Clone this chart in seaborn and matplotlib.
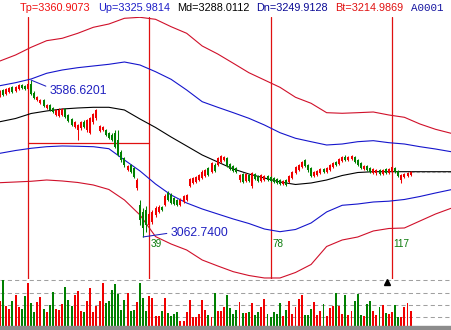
import matplotlib
matplotlib.use("Agg")
import matplotlib.pyplot as plt
from matplotlib.patches import Rectangle
import seaborn as sns
import numpy as np

sns.set_style("white")
plt.rcParams['font.family'] = ['Liberation Sans', 'DejaVu Sans']

# ---------------- data ----------------
candle_idx = list(range(-9, 124))

open_ = [3534, 3554, 3540, 3547, 3564, 3550, 3557, 3570, 3567,
         3557, 3574, 3544, 3520, 3510, 3520, 3493, 3504, 3493, 3470,
         3467, 3470, 3490, 3470, 3457, 3430, 3420, 3427, 3447, 3420,
         3410, 3447, 3460, 3417, 3420, 3420, 3410, 3403, 3410, 3387,
         3347, 3327, 3286, 3303, 3293, 3226, 3170, 3146, 3153, 3103,
         3113, 3136, 3146, 3163, 3170, 3210, 3203, 3193, 3186, 3170,
         3180, 3186, 3233, 3243, 3246, 3253, 3260, 3266, 3293, 3280,
         3303, 3303, 3313, 3320, 3327, 3306, 3300, 3293, 3253, 3273,
         3250, 3270, 3233, 3273, 3266, 3250, 3253, 3266, 3263, 3260,
         3256, 3253, 3240, 3253, 3246, 3260, 3276, 3286, 3296, 3320,
         3303, 3293, 3266, 3270, 3276, 3290, 3280, 3286, 3296, 3313,
         3306, 3317, 3330, 3320, 3323, 3330, 3320, 3310, 3290, 3300,
         3293, 3276, 3276, 3286, 3273, 3290, 3276, 3280, 3293, 3283,
         3253, 3263, 3266, 3270]

close = [3550, 3537, 3557, 3560, 3547, 3564, 3570, 3560, 3557,
         3574, 3540, 3527, 3530, 3520, 3500, 3504, 3487, 3480, 3487,
         3487, 3490, 3463, 3450, 3437, 3447, 3437, 3447, 3430, 3453,
         3460, 3473, 3487, 3433, 3430, 3403, 3393, 3387, 3363, 3337,
         3320, 3303, 3300, 3280, 3263, 3253, 3119, 3093, 3103, 3139,
         3146, 3159, 3163, 3153, 3200, 3186, 3176, 3173, 3170, 3186,
         3200, 3203, 3256, 3260, 3263, 3270, 3280, 3286, 3270, 3310,
         3283, 3327, 3333, 3330, 3300, 3290, 3283, 3280, 3270, 3246,
         3273, 3250, 3276, 3256, 3250, 3270, 3266, 3253, 3250, 3246,
         3243, 3240, 3250, 3236, 3266, 3280, 3296, 3303, 3313, 3300,
         3286, 3266, 3280, 3283, 3290, 3280, 3293, 3303, 3310, 3303,
         3323, 3330, 3320, 3330, 3333, 3313, 3303, 3293, 3300, 3286,
         3280, 3290, 3286, 3273, 3286, 3276, 3290, 3296, 3280, 3266,
         3270, 3273, 3276, 3280]

high = [3554, 3557, 3560, 3564, 3567, 3567, 3574, 3574, 3570,
        3580, 3586.62, 3550, 3534, 3524, 3524, 3507, 3507, 3497, 3490,
        3493, 3493, 3493, 3473, 3460, 3450, 3440, 3450, 3453, 3457,
        3463, 3477, 3490, 3437, 3433, 3423, 3413, 3410, 3420, 3420,
        3353, 3330, 3303, 3306, 3296, 3260, 3186, 3159, 3166, 3146,
        3153, 3166, 3170, 3166, 3206, 3216, 3210, 3196, 3190, 3193,
        3203, 3206, 3260, 3263, 3266, 3273, 3286, 3290, 3296, 3313,
        3310, 3330, 3337, 3333, 3330, 3310, 3303, 3296, 3273, 3276,
        3276, 3273, 3280, 3276, 3270, 3273, 3270, 3270, 3266, 3263,
        3260, 3256, 3253, 3256, 3270, 3283, 3300, 3306, 3317, 3323,
        3306, 3296, 3283, 3286, 3293, 3293, 3296, 3306, 3313, 3317,
        3327, 3333, 3337, 3333, 3337, 3333, 3323, 3313, 3303, 3303,
        3296, 3293, 3290, 3290, 3290, 3293, 3293, 3300, 3296, 3286,
        3273, 3276, 3280, 3283]

low = [3530, 3534, 3537, 3544, 3544, 3547, 3554, 3557, 3554,
       3554, 3537, 3524, 3517, 3507, 3497, 3490, 3483, 3477, 3467,
       3463, 3467, 3460, 3447, 3433, 3427, 3387, 3420, 3427, 3413,
       3407, 3440, 3453, 3413, 3417, 3400, 3390, 3383, 3360, 3333,
       3313, 3296, 3283, 3276, 3260, 3220, 3103, 3062.74, 3079, 3093,
       3106, 3129, 3143, 3149, 3166, 3183, 3173, 3170, 3166, 3166,
       3176, 3183, 3230, 3240, 3243, 3250, 3256, 3263, 3266, 3276,
       3280, 3300, 3310, 3317, 3296, 3286, 3280, 3276, 3246, 3243,
       3246, 3246, 3226, 3253, 3246, 3246, 3250, 3250, 3246, 3243,
       3240, 3236, 3236, 3233, 3243, 3256, 3273, 3283, 3293, 3296,
       3280, 3263, 3263, 3266, 3273, 3276, 3276, 3283, 3293, 3300,
       3303, 3313, 3317, 3317, 3320, 3310, 3300, 3290, 3286, 3283,
       3276, 3273, 3270, 3270, 3270, 3273, 3273, 3276, 3276, 3263,
       3243, 3260, 3263, 3266]

volume = [75, 138, 58, 50, 75, 93, 57, 50, 90,
          127, 68, 42, 70, 87, 50, 40, 63, 102, 50,
          47, 65, 115, 77, 60, 93, 105, 43, 40, 75,
          112, 40, 58, 73, 127, 67, 75, 107, 125, 95,
          47, 77, 97, 45, 47, 70, 127, 82, 45, 90,
          83, 30, 30, 45, 83, 37, 30, 35, 40, 15,
          15, 42, 77, 27, 25, 35, 77, 47, 33, 25,
          97, 43, 43, 55, 92, 52, 35, 47, 72, 37,
          37, 42, 68, 32, 42, 55, 80, 35, 25, 42,
          35, 68, 28, 47, 75, 35, 55, 80, 92, 33,
          33, 50, 72, 33, 43, 65, 30, 52, 60, 99,
          60, 35, 92, 33, 43, 73, 95, 33, 28, 65,
          73, 45, 33, 55, 62, 38, 35, 42, 62, 27,
          25, 55, 68, 45]

band_idx = list(range(-9, 137, 5))
tp = [3650.5, 3670.5, 3696.2, 3718.3, 3726.3, 3743.0, 3763.0, 3774.0, 3793.1, 3796.4,
      3789.7, 3765.0, 3743.0, 3700.6, 3673.8, 3642.8, 3611.4, 3587.0, 3562.6, 3529.2,
      3509.2, 3477.8, 3475.8, 3477.8, 3480.1, 3470.1, 3462.4, 3440.0, 3422.3, 3409.0]
up = [3568.0, 3578.0, 3590.3, 3609.4, 3620.4, 3628.1, 3633.8, 3639.4, 3647.1, 3637.1,
      3614.7, 3589.3, 3553.6, 3514.5, 3495.8, 3477.8, 3459.1, 3436.7, 3411.0, 3392.3,
      3380.9, 3369.9, 3373.2, 3380.9, 3384.3, 3377.6, 3373.2, 3364.2, 3356.5, 3347.5]
md = [3447.7, 3458.4, 3475.1, 3483.5, 3490.1, 3493.5, 3495.8, 3495.8, 3486.8, 3456.7,
      3428.4, 3396.6, 3366.6, 3336.5, 3313.1, 3289.7, 3273.0, 3259.7, 3246.3, 3238.0,
      3243.0, 3253.0, 3268.0, 3278.0, 3280.7, 3280.7, 3280.7, 3280.7, 3280.7, 3280.7]
dn = [3342.2, 3351.5, 3358.9, 3364.2, 3366.6, 3365.6, 3364.2, 3357.5, 3319.8, 3283.1,
      3239.6, 3202.9, 3176.2, 3156.2, 3139.4, 3122.7, 3107.7, 3089.3, 3080.3, 3087.7,
      3109.4, 3146.3, 3168.5, 3172.8, 3179.5, 3182.2, 3187.9, 3197.9, 3209.6, 3220.6]
bt = [3244.0, 3246.3, 3248.7, 3253.0, 3249.7, 3244.7, 3236.3, 3221.3, 3186.2, 3136.1,
      3064.0, 3039.2, 3019.2, 2985.8, 2965.8, 2946.7, 2934.0, 2925.7, 2925.7, 2944.1,
      2970.8, 3030.9, 3052.6, 3062.6, 3082.7, 3091.0, 3092.7, 3116.1, 3139.4, 3158.5]

cycle_idx = [0, 39, 78, 117]
cycle_labels = ["", "39", "78", "117"]
hline_price = 3376.6
high_label = "3586.6201"
low_label = "3062.7400"
header_texts = ["Tp=3360.9073", "Up=3325.9814", "Md=3288.0112",
                "Dn=3249.9128", "Bt=3214.9869", "A0001"]
vol_grid = [25, 62, 98, 138]

# ---------------- styles ----------------
RED = "#F00000"
GREEN = "#008000"
BAND_RED = "#D0102A"
BAND_BLUE = "#1515CC"
CYCLE_RED = "#E01010"
header_colors = ["#F01010", "#1E1EC8", "#000000", "#0A0A96", "#E01010", "#1414A0"]
header_x = [20, 98, 177, 256, 335, 411]

W, H = 452, 330
fig = plt.figure(figsize=(W / 100, H / 100), dpi=100)
fig.patch.set_facecolor("white")
ax = fig.add_axes([0, 51 / H, 1, 262 / H])
axv = fig.add_axes([0, 4.5 / H, 1, 46.5 / H])
for a in (ax, axv):
    a.axis("off")
    a.set_xlim(-9.0, 136.3)
ax.set_ylim(2922.3, 3797.4)
axv.set_ylim(0, 139.5)

o = np.array(open_); c = np.array(close); hi = np.array(high); lo = np.array(low)
cols = [RED if cc >= oo else GREEN for oo, cc in zip(o, c)]

# cycle lines
for xi in cycle_idx:
    ax.axvline(xi, color=CYCLE_RED, lw=0.9, zorder=1)
ax.plot([cycle_idx[0], cycle_idx[1]], [hline_price, hline_price], color=CYCLE_RED, lw=0.9, zorder=1)

# bands
for vals, col in [(tp, BAND_RED), (up, BAND_BLUE), (md, "black"), (dn, BAND_BLUE), (bt, BAND_RED)]:
    sns.lineplot(x=band_idx, y=vals, ax=ax, color=col, lw=0.8, estimator=None, sort=False, zorder=2)

# candles
ax.vlines(candle_idx, lo, hi, colors=cols, lw=0.75, zorder=3)
body_low = np.minimum(o, c)
body_h = np.maximum(np.abs(c - o), 2.0)
ax.bar(candle_idx, body_h, bottom=body_low, width=0.62, color=cols, zorder=3, linewidth=0)

# last close dashed extension
ax.plot([candle_idx[-1], 136.3], [close[-1], close[-1]], color="#909090", lw=0.75,
        ls=(0, (3, 2)), zorder=2)

# high / low annotations
ih = int(np.argmax(hi)); il = int(np.argmin(lo))
ax.annotate(high_label, xy=(candle_idx[ih], hi[ih]), xytext=(18, -11), textcoords="offset pixels",
            color="#2020C0", fontsize=8.8, va="center", ha="left",
            arrowprops=dict(arrowstyle="-", color="#2020C0", lw=0.75, shrinkA=0, shrinkB=0,
                            relpos=(0, 0.8)))
ax.annotate(low_label, xy=(candle_idx[il], lo[il]), xytext=(27, 4), textcoords="offset pixels",
            color="#2020C0", fontsize=8.8, va="center", ha="left",
            arrowprops=dict(arrowstyle="-", color="#2020C0", lw=0.75, shrinkA=0, shrinkB=0,
                            relpos=(0, 0.5)))

for xi, lab in zip(cycle_idx, cycle_labels):
    if lab:
        ax.text(xi + 0.5, 3040, lab, color="#0A7A0A", fontsize=7.2, ha="left", va="center")

# volume
for g in vol_grid:
    axv.axhline(g, color="#A0A0A0", lw=0.75, ls=(0, (4, 3)), zorder=1)
axv.bar(candle_idx, volume, width=0.62, color=cols, linewidth=0, zorder=2)
axv.plot([115.3], [130], marker="^", color="black", ms=4.5, ls="none", zorder=3)

fig.patches.append(Rectangle((0, 0), 1, 4.5 / H, transform=fig.transFigure,
                             color="#8C8C8C", zorder=0))

# header
for s, col, x in zip(header_texts, header_colors, header_x):
    fam = ["Liberation Mono", "DejaVu Sans Mono"] if s == "A0001" else ["Liberation Sans", "DejaVu Sans"]
    fig.text(x / W, 1 - 8 / H, s, color=col, fontsize=7.8, ha="left", va="center", family=fam)

fig.savefig("out.png", dpi=100, facecolor="white")
